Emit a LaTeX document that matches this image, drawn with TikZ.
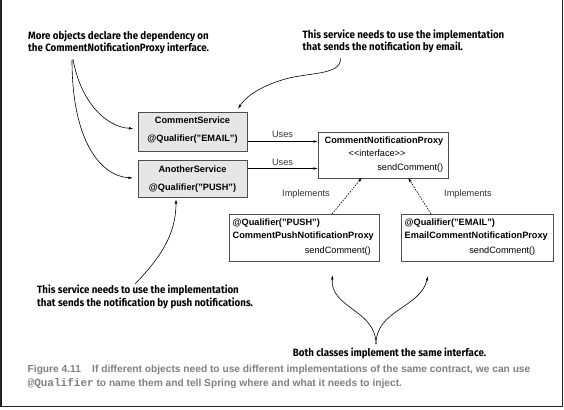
\documentclass[tikz,border=0pt]{standalone}
\usepackage{fontspec}
\setmainfont{Liberation Sans}
\newfontfamily\callfont[FakeStretch=0.92]{Fira Sans}
\newfontfamily\capmono{Liberation Mono}
\usetikzlibrary{arrows.meta}
\definecolor{boxgray}{HTML}{E6E6E6}
\definecolor{boxline}{HTML}{4D4D4D}
\definecolor{capgray}{HTML}{808080}
\definecolor{framecol}{HTML}{222222}
\newcommand\bxf{\fontsize{9.2bp}{11bp}\selectfont}
\newcommand\clf{\callfont\bfseries\fontsize{10.6bp}{12.6bp}\selectfont}
\newcommand\cpf{\bfseries\fontsize{10.2bp}{14bp}\selectfont}
\tikzset{
  svcbox/.style={draw=boxline, fill=boxgray, line width=0.8bp, anchor=north west, inner sep=0pt},
  clsbox/.style={draw=boxline, fill=white, line width=0.8bp, anchor=north west, inner sep=0pt},
  btxt/.style={font=\bxf, inner sep=0pt, text=black},
  ltxt/.style={font=\bxf, inner sep=0pt, text=black!80},
  callout/.style={font=\clf, align=left, anchor=west, inner sep=0pt, text=black},
  arr/.style={-{Latex[length=4.5bp,width=2.6bp]}, line width=0.6bp, black},
  darr/.style={-{Latex[length=4.5bp,width=2.6bp]}, line width=0.6bp, black, dash pattern=on 1.6bp off 1.2bp},
}
\begin{document}
\begin{tikzpicture}[x=1bp,y=-1bp]
\useasboundingbox (0,0) rectangle (564,409);
\fill[white] (0,0) rectangle (564,409);
% frame
\draw[framecol, line width=1.5bp] (1,0) -- (1,406.5) -- (562.7,406.5) -- (562.7,0);

% service boxes
\node[svcbox, minimum width=109bp, minimum height=39bp] (cs) at (138,111.5) {};
\node[btxt, font=\bxf\bfseries] (csn) at (192.5,120.5) {CommentService};
\node[btxt, font=\bxf\bfseries] (csq) at (192.5,139.5) {@Qualifier("EMAIL")};
\node[svcbox, minimum width=109bp, minimum height=37.5bp] (as) at (138,159.5) {};
\node[btxt, font=\bxf\bfseries] (asn) at (192.5,169) {AnotherService};
\node[btxt, font=\bxf\bfseries] (asq) at (192.5,188) {@Qualifier("PUSH")};

% interface box
\node[clsbox, minimum width=130bp, minimum height=46bp] (cnp) at (318,131.5) {};
\node[btxt, font=\bxf\bfseries, anchor=east] (cnpn) at (443.5,141.5) {CommentNotificationProxy};
\node[btxt, anchor=west] (cnpi) at (348.5,153) {<{}<interface>{}>};
\node[btxt, anchor=east] (cnpm) at (443.5,168.5) {sendComment()};

% implementation boxes
\node[clsbox, minimum width=150bp, minimum height=47bp] (push) at (228.5,214) {};
\node[btxt, font=\bxf\bfseries, anchor=west] (pushq) at (232.5,223.5) {@Qualifier("PUSH")};
\node[btxt, font=\bxf\bfseries, anchor=west] (pushn) at (232.5,236.5) {CommentPushNotificationProxy};
\node[btxt, anchor=east] (pushm) at (371,251) {sendComment()};
\node[clsbox, minimum width=152bp, minimum height=47bp] (email) at (400.5,214) {};
\node[btxt, font=\bxf\bfseries, anchor=west] (emailq) at (404.5,223.5) {@Qualifier("EMAIL")};
\node[btxt, font=\bxf\bfseries, anchor=west] (emailn) at (404.5,236.5) {EmailCommentNotificationProxy};
\node[btxt, anchor=east] (emailm) at (535.5,251) {sendComment()};

% uses
\draw[arr] (cs.east |- cnpn) -- (cnp.west |- cnpn);
\draw[arr] (as.east |- cnpm) -- (cnp.west |- cnpm);
\node[ltxt] (u1) at (282.5,134) {Uses};
\node[ltxt] (u2) at (282.5,162.5) {Uses};

% implements
\coordinate (pt) at (332,214);
\coordinate (ph) at (362,177.5);
\coordinate (et) at (431,214);
\coordinate (eh) at (408,177.5);
\draw[darr] (pt) -- (ph);
\draw[darr] (et) -- (eh);
\node[ltxt] (i1) at (306,194.5) {Implements};
\node[ltxt] (i2) at (468,194.5) {Implements};

% callouts
\node[callout] (c1) at (28,42.5) {More objects declare the dependency on\\the CommentNotificationProxy interface.};
\node[callout] (c2) at (302.5,41.5) {This service needs to use the implementation\\that sends the notification by email.};
\node[callout] (c3) at (37,297) {This service needs to use the implementation\\that sends the notification by push notifications.};
\node[callout] (c4) at (292.7,353) {Both classes implement the same interface.};

\coordinate (c1s) at (73,59);
\coordinate (c1t) at (72,60);
\coordinate (csw) at (133.5,128.5);
\coordinate (asw) at (133,178);
\draw[arr] (c1s) .. controls (80,100) and (105,127) .. (csw);
\draw[arr] (c1t) .. controls (72,140) and (100,176) .. (asw);

\coordinate (c2s) at (340.5,58.5);
\coordinate (c2m) at (282,80);
\coordinate (csne) at (238,109);
\draw[arr] (c2s) .. controls (341,76) and (306,72) .. (c2m) .. controls (262,86) and (246,96) .. (csne);

\coordinate (c3s) at (135,284);
\coordinate (ass) at (176,199);
\draw[arr] (c3s) .. controls (160,258) and (176,235) .. (ass);

\coordinate (c4s) at (376,344);
\coordinate (pushs) at (332.5,275);
\coordinate (emails) at (428,276);
\draw[arr] (c4s) .. controls (376,310) and (330,308) .. (pushs);
\draw[arr] (c4s) .. controls (376,310) and (420,308) .. (emails);

% caption
\node[font=\cpf, text=capgray, align=left, anchor=west, inner sep=0pt] (cap) at (27.5,377) {Figure 4.11\hspace{1.1em}If different objects need to use different implementations of the same contract, we can use\\{\capmono\bfseries\fontsize{11bp}{14bp}\selectfont @Qualifier} to name them and tell Spring where and what it needs to inject.};
\end{tikzpicture}
\end{document}
